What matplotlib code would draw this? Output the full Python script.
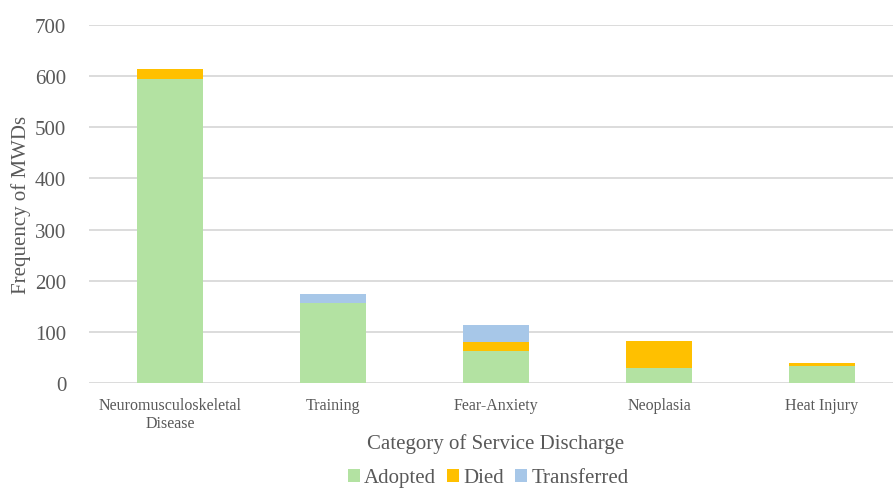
import matplotlib
matplotlib.use("Agg")
import matplotlib.pyplot as plt
import numpy as np

categories = ["Neuromusculoskeletal\nDisease", "Training", "Fear-Anxiety", "Neoplasia", "Heat Injury"]
adopted = [595, 156, 62, 29, 34]
died = [18, 0, 19, 53, 5]
transferred = [0, 19, 32, 0, 0]
yticks = [0, 100, 200, 300, 400, 500, 600, 700]

plt.rcParams['font.family'] = ['Liberation Serif', 'DejaVu Serif']
txt = '#595959'

fig = plt.figure(figsize=(8.93, 4.89), dpi=100)
ax = fig.add_axes([88.5/893, 1-384/489, (903.5-88.5)/893, 358/489])

x = np.arange(len(categories))
a = np.array(adopted); d = np.array(died); t = np.array(transferred)
w = 0.4
ax.bar(x, a, w, color='#b3e2a2', label='Adopted', zorder=3)
ax.bar(x, d, w, bottom=a, color='#ffc000', label='Died', zorder=3)
ax.bar(x, t, w, bottom=a + d, color='#a7c7e8', label='Transferred', zorder=3)

ax.set_xlim(-0.5, len(categories) - 0.5)
ax.set_ylim(0, 700)
ax.set_yticks(yticks)
ax.set_xticks(x)
ax.set_xticklabels(categories, fontsize=11.5, color=txt)
ax.tick_params(axis='y', labelsize=15, labelcolor=txt, length=0, pad=16)
ax.tick_params(axis='x', length=0, pad=10)
ax.grid(axis='y', color='#d9d9d9', linewidth=1.3, zorder=0)
for s in ax.spines.values():
    s.set_visible(False)

ax.set_xlabel('Category of Service Discharge', fontsize=15, color=txt, labelpad=1)
fig.text(21/893, 1-205/489, 'Frequency of MWDs', rotation=90, fontsize=15, color=txt,
         ha='center', va='center')

fig.legend(loc='center', bbox_to_anchor=(488/893, 1-479/489), ncol=3, frameon=False,
           fontsize=15, labelcolor=txt, handlelength=0.6, handleheight=0.6,
           handletextpad=0.2, columnspacing=0.5, borderaxespad=0)

fig.savefig('out.png', dpi=100)
